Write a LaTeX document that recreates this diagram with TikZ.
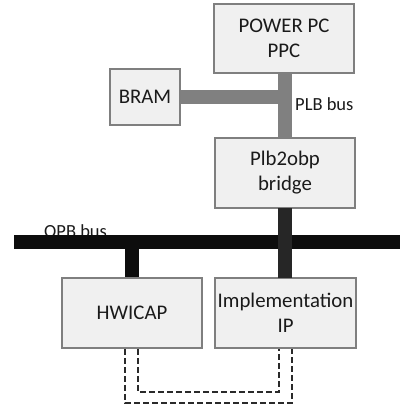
\documentclass[tikz,border=0pt]{standalone}
\usepackage{fontspec}
\setmainfont{Carlito}
\begin{document}
\begin{tikzpicture}[x=1pt,y=-1pt,
  box/.style={draw=boxline,fill=boxfill,line width=1.6pt,inner sep=0pt,align=center,font=\fontsize{20.8}{25}\selectfont,text=txt},
  lbl/.style={inner sep=0pt,font=\fontsize{18.5}{21}\selectfont,text=txt},
  plb/.style={draw=plbgray,line width=14pt},
  opb/.style={draw=opbblack,line width=14pt},
  link/.style={draw=linkgray,line width=2pt,dash pattern=on 6pt off 3pt}]
\definecolor{boxline}{HTML}{7F7F7F}
\definecolor{boxfill}{HTML}{F0F0F0}
\definecolor{txt}{HTML}{1A1A1A}
\definecolor{plbgray}{HTML}{808080}
\definecolor{opbblack}{HTML}{0D0D0D}
\definecolor{stubdark}{HTML}{262626}
\definecolor{linkgray}{HTML}{2A2A2A}
\useasboundingbox (0,0) rectangle (400,407);
% labels under buses
\node[lbl,anchor=west] (opbl) at (44,231) {OPB bus};
\node[lbl,anchor=west] (plbl) at (295,104) {PLB bus};
% boxes
\node[box,minimum width=140pt,minimum height=69pt] (ppc) at (284,38.5) {POWER PC\\PPC};
\node[box,minimum width=70pt,minimum height=56pt] (bram) at (145,97) {BRAM};
\node[box,minimum width=140pt,minimum height=70pt] (bridge) at (285,173) {Plb2obp\\bridge};
\node[box,minimum width=140pt,minimum height=70pt] (hw) at (132,313) {HWICAP};
\node[box,minimum width=141pt,minimum height=70pt] (impl) at (285.5,313) {Implementation\\IP};
% PLB bus
\coordinate (plbtop) at (285,73);
\coordinate (plbbot) at (285,138);
\coordinate (plbj) at (292,104);
\draw[plb] (plbtop) -- (plbbot);
\draw[plb] (bram.east) -- (bram.east -| plbj);
% OPB bus
\coordinate (opbw) at (14,242);
\coordinate (opbe) at (400,242);
\draw[opb] (opbw) -- (opbe);
\draw[draw=stubdark,line width=14pt] (285,208) -- (285,278);
\draw[opb] (132,249) -- (hw.north);
% dashed links
\draw[link] ([xshift=-7pt]hw.south) -- ++(0,54) -| ([xshift=6.5pt]impl.south);
\draw[link] ([xshift=6pt]hw.south) -- ++(0,43) -| ([xshift=-6.5pt]impl.south);
\end{tikzpicture}
\end{document}
